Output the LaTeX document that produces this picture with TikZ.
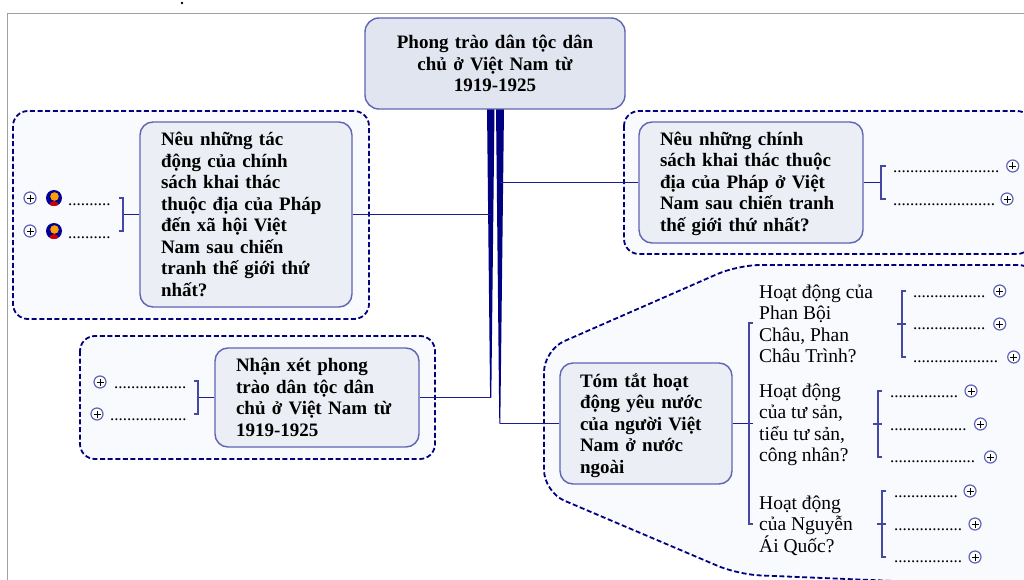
\documentclass[tikz,border=0pt]{standalone}
\usepackage{fontspec}
\setmainfont{Liberation Serif}
\definecolor{trunkblue}{HTML}{000080}
\definecolor{linkblue}{HTML}{1C1C92}
\definecolor{edgeblue}{HTML}{5F64B4}
\definecolor{topfill}{HTML}{E0E5F0}
\definecolor{boxfill}{HTML}{EBEEF4}
\definecolor{zonefill}{HTML}{F9FAFD}
\definecolor{frameline}{HTML}{A0A0A0}
\tikzset{
  zone/.style={draw=trunkblue,fill=zonefill,line width=1.8pt,dash pattern=on 5pt off 2.6pt},
  mainbox/.style={draw=edgeblue,line width=1.4pt,rounded corners=13pt,fill=boxfill,align=left,inner ysep=0pt,
    font=\fontsize{19}{21.5}\selectfont\bfseries},
  subtext/.style={anchor=west,align=left,inner sep=0pt,font=\fontsize{19.5}{21.5}\selectfont},
  dotstext/.style={anchor=base west,inner sep=0pt,font=\fontsize{17}{21.5}\selectfont},
  plusnode/.style={circle,draw=edgeblue,line width=1.2pt,fill=white,minimum size=12pt,inner sep=0pt,
    path picture={\draw[black,line width=.9pt]
      ([xshift=-3.5pt]path picture bounding box.center) -- ([xshift=3.5pt]path picture bounding box.center)
      ([yshift=-3.5pt]path picture bounding box.center) -- ([yshift=3.5pt]path picture bounding box.center);}},
  link/.style={draw=linkblue,line width=1.8pt},
  brace/.style={draw=edgeblue!60!linkblue,line width=1.6pt},
}
\newcommand{\leafitem}[6]{%
  \node[dotstext] (d#1) at (#2,#3) {#4};
  \node[plusnode] (p#1) at (#5,#6) {};
}
\newcommand{\personicon}[3]{%
  \node[circle,fill=blue!60!black,minimum size=16pt,inner sep=0pt,
    path picture={
      \fill[red!80!black] ([yshift=-8.5pt]path picture bounding box.center) ellipse (5pt and 5.5pt);
      \fill[orange!75!yellow] ([xshift=.5pt,yshift=1.5pt]path picture bounding box.center) circle (4.3pt);
    }] (#1) at (#2,#3) {};
}
\begin{document}
\begin{tikzpicture}[x=1pt,y=-1pt]
\path[use as bounding box,clip] (0,0) rectangle (1024,580);
\fill[white] (0,0) rectangle (1024,580);
% frame
\draw[frameline,line width=1.2pt] (7.5,580) -- (7.5,13.5) -- (1024,13.5);
\fill[black] (182,3) circle (1.3pt);
% dashed zones
\draw[zone,rounded corners=15pt] (13,111) rectangle (369,319);
\draw[zone,rounded corners=15pt] (80,336) rectangle (435,459);
\draw[zone,rounded corners=15pt] (624,111) rectangle (1032,254);
\draw[zone,rounded corners=22pt] (1040,265) -- (738,265) -- (544,350) -- (544,492) -- (738,574.5) -- (1040,587) -- cycle;
% trunk
\coordinate (tl) at (490.7,397.5);
\coordinate (tr) at (499.8,423.5);
\fill[trunkblue] (487,108) -- (494.5,108) -- (491.3,397.5) -- (490.1,397.5) -- cycle;
\fill[trunkblue] (496,108) -- (504,108) -- (500.3,423.5) -- (499.3,423.5) -- cycle;
% main boxes
\node[mainbox,fill=topfill,align=center,minimum width=260pt,minimum height=91pt,text width=240pt,inner xsep=10pt,rounded corners=14pt] (top) at (495,63.5)
  {Phong trào dân tộc dân\\chủ ở Việt Nam từ\\1919-1925};
\node[mainbox,minimum width=212pt,minimum height=185pt,text width=170pt,inner xsep=21pt] (b1) at (246,214.5)
  {Nêu những tác\\động của chính\\sách khai thác\\thuộc địa của Pháp\\đến xã hội Việt\\Nam sau chiến\\tranh thế giới thứ\\nhất?};
\node[mainbox,minimum width=224pt,minimum height=121pt,text width=182pt,inner xsep=21pt] (b2) at (751,182.5)
  {\rule{0pt}{16pt}Nêu những chính\\sách khai thác thuộc\\địa của Pháp ở Việt\\Nam sau chiến tranh\\thế giới thứ nhất?};
\node[mainbox,minimum width=204pt,minimum height=99pt,text width=162pt,inner xsep=21pt] (b3) at (317,397.5)
  {Nhận xét phong\\trào dân tộc dân\\chủ ở Việt Nam từ\\1919-1925};
\node[mainbox,minimum width=172pt,minimum height=121pt,text width=132pt,inner xsep=20pt] (b4) at (646,423.5)
  {\rule{0pt}{18pt}Tóm tắt hoạt\\động yêu nước\\của người Việt\\Nam ở nước\\ngoài};
% trunk links
\draw[link] (b1.east) -- (b1.east -| tl);
\draw[link] (b3.east) -- (tl);
\draw[link] (b2.west) -- (b2.west -| tr);
\draw[link] (b4.west) -- (tr);
% brackets of first level
\coordinate (k1) at (123,214.5);
\coordinate (k2) at (881,182.5);
\coordinate (k3) at (198,397.5);
\coordinate (k4) at (749,423.5);
\draw[link] (b1.west) -- (k1);
\draw[link] (b2.east) -- (k2);
\draw[link] (b3.west) -- (k3);
\draw[link] (b4.east) -- ([xshift=4pt]k4);
\draw[brace] (k1) ++(-4,-16.5) -- ++(4,0) -- ++(0,33) -- ++(-4,0);
\draw[brace] (k2) ++(5,-16.5) -- ++(-5,0) -- ++(0,33) -- ++(5,0);
\draw[brace] (k3) ++(-4,-16.5) -- ++(4,0) -- ++(0,33) -- ++(-4,0);
\draw[brace] (k4) ++(4,-100.5) -- ++(-4,0) -- ++(0,201) -- ++(4,0);
% second level texts
\node[subtext] (s1) at (759,324) {Hoạt động của\\Phan Bội\\Châu, Phan\\Châu Trình?};
\node[subtext] (s2) at (759,425) {Hoạt động\\của tư sản,\\tiểu tư sản,\\công nhân?};
\node[subtext] (s3) at (759,525.5) {Hoạt động\\của Nguyễn\\Ái Quốc?};
% brackets of second level
\coordinate (g1) at (902,324);
\coordinate (g2) at (878,424);
\coordinate (g3) at (882,524);
\foreach \g in {g1,g2,g3}{
  \draw[brace] (\g) ++(4,-33) -- ++(-4,0) -- ++(0,66) -- ++(4,0);
  \draw[brace] (\g) ++(-5,0) -- ++(9,0);
}
% leaves
\personicon{i1}{54}{198}
\personicon{i2}{54}{231}
\leafitem{a1}{68}{205}{..........}{30}{198}
\leafitem{a2}{68}{238}{..........}{30}{231}
\leafitem{b1}{893}{172}{.........................}{1012.7}{166}
\leafitem{b2}{893}{205}{........................}{1007}{199}
\leafitem{c1}{114}{388}{.................}{100}{382}
\leafitem{c2}{110}{420}{..................}{97}{414}
\leafitem{e1}{913}{297}{.................}{999.7}{291}
\leafitem{e2}{913}{329.5}{.................}{999.7}{324}
\leafitem{e3}{913}{362}{....................}{1013.7}{357}
\leafitem{f1}{890}{397}{................}{971}{391}
\leafitem{f2}{890}{430}{..................}{980.5}{424}
\leafitem{f3}{890}{462}{....................}{990.5}{457}
\leafitem{h1}{894}{497}{...............}{970}{491}
\leafitem{h2}{894}{530}{................}{975}{524}
\leafitem{h3}{894}{562}{................}{975}{557}
\end{tikzpicture}
\end{document}
